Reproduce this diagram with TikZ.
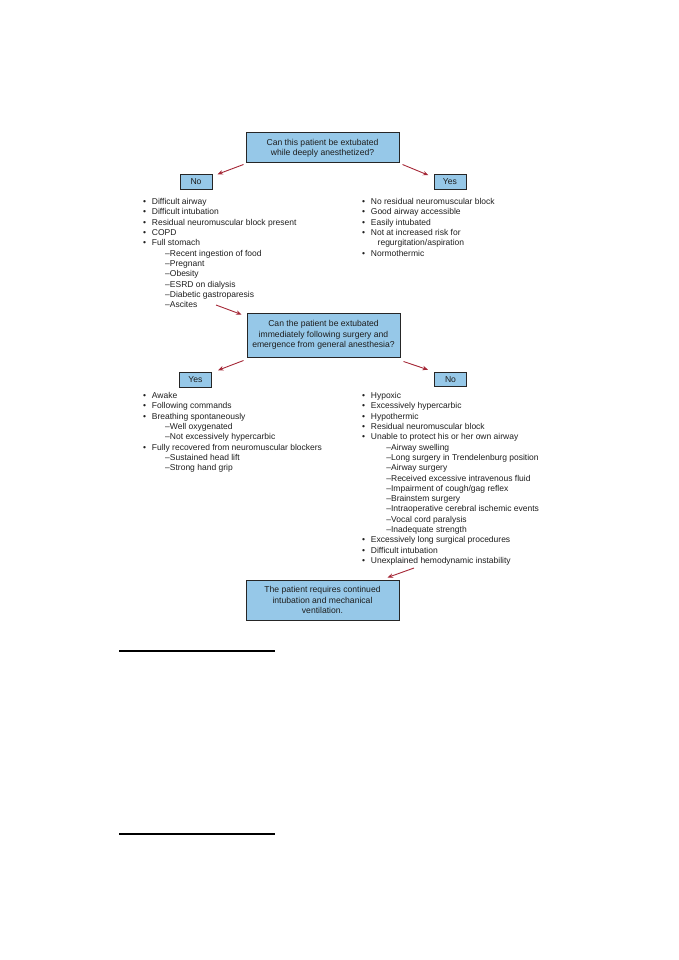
\documentclass[tikz,border=0pt]{standalone}
\usepackage{fontspec}
\setmainfont{Liberation Sans}
\usetikzlibrary{arrows.meta}
\definecolor{boxfill}{RGB}{150,200,232}
\definecolor{arrred}{RGB}{165,40,55}
\definecolor{txt}{RGB}{30,30,30}
\newcommand{\bitem}[1]{\makebox[8.7pt][l]{\textbullet}#1}
\newcommand{\subL}[1]{\hspace*{22pt}–#1}
\newcommand{\subR}[1]{\hspace*{24.2pt}–#1}
\begin{document}
\begin{tikzpicture}[x=1pt,y=-1pt,
  qbox/.style={draw=black!85, line width=1pt, fill=boxfill, align=center,
    inner sep=0pt, text=txt, font=\fontsize{8.6}{10.4}\selectfont},
  ansbox/.style={qbox, minimum width=32pt, minimum height=14.5pt},
  listtext/.style={anchor=north west, align=left, inner sep=0pt, text=txt,
    font=\fontsize{8.5}{10.3}\selectfont},
  arr/.style={draw=arrred, line width=0.9pt, -{Stealth[length=5.5pt,width=4.5pt]}}]
\useasboundingbox (0,0) rectangle (678,960);

% question boxes
\node[qbox, minimum width=153pt, minimum height=30pt] (q1) at (322.5,148)
  {Can this patient be extubated\\while deeply anesthetized?};
\node[ansbox] (no1) at (196,182) {No};
\node[ansbox] (yes1) at (450,182) {Yes};

\node[qbox, minimum width=153pt, minimum height=44pt] (q2) at (323.5,335)
  {Can the patient be extubated\\immediately following surgery and\\emergence from general anesthesia?};
\node[ansbox] (yes2) at (195.5,380) {Yes};
\node[ansbox] (no2) at (450.5,379.5) {No};

\node[qbox, minimum width=153pt, minimum height=40pt] (q3) at (322.5,600)
  {The patient requires continued\\intubation and mechanical\\ventilation.};

% lists
\node[listtext] (l1) at (143,198.3) {%
\bitem{Difficult airway}\\
\bitem{Difficult intubation}\\
\bitem{Residual neuromuscular block present}\\
\bitem{COPD}\\
\bitem{Full stomach}\\
\subL{Recent ingestion of food}\\
\subL{Pregnant}\\
\subL{Obesity}\\
\subL{ESRD on dialysis}\\
\subL{Diabetic gastroparesis}\\
\subL{Ascites}};

\node[listtext] (r1) at (362,198.3) {%
\bitem{No residual neuromuscular block}\\
\bitem{Good airway accessible}\\
\bitem{Easily intubated}\\
\bitem{Not at increased risk for}\\
\hspace*{15.5pt}regurgitation/aspiration\\
\bitem{Normothermic}};

\node[listtext] (l2) at (143,392.3) {%
\bitem{Awake}\\
\bitem{Following commands}\\
\bitem{Breathing spontaneously}\\
\subL{Well oxygenated}\\
\subL{Not excessively hypercarbic}\\
\bitem{Fully recovered from neuromuscular blockers}\\
\subL{Sustained head lift}\\
\subL{Strong hand grip}};

\node[listtext] (r2) at (362,392.3) {%
\bitem{Hypoxic}\\
\bitem{Excessively hypercarbic}\\
\bitem{Hypothermic}\\
\bitem{Residual neuromuscular block}\\
\bitem{Unable to protect his or her own airway}\\
\subR{Airway swelling}\\
\subR{Long surgery in Trendelenburg position}\\
\subR{Airway surgery}\\
\subR{Received excessive intravenous fluid}\\
\subR{Impairment of cough/gag reflex}\\
\subR{Brainstem surgery}\\
\subR{Intraoperative cerebral ischemic events}\\
\subR{Vocal cord paralysis}\\
\subR{Inadequate strength}\\
\bitem{Excessively long surgical procedures}\\
\bitem{Difficult intubation}\\
\bitem{Unexplained hemodynamic instability}};

\coordinate (asc) at (216,305);
\coordinate (unex) at (414,568);

% arrows
\draw[arr] ([shift={(-2,1)}]q1.south west) -- ([shift={(5,0)}]no1.north east);
\draw[arr] ([shift={(3,1)}]q1.south east) -- ([shift={(-5,1)}]yes1.north west);
\draw[arr] (asc) -- ([shift={(-5,2)}]q2.north west);
\draw[arr] ([shift={(-3,3)}]q2.south west) -- ([shift={(6,-2)}]yes2.north east);
\draw[arr] ([shift={(3,4)}]q2.south east) -- ([shift={(-6,-2)}]no2.north west);
\draw[arr] (unex) -- ([shift={(-12,-2)}]q3.north east);

% rules at the bottom
\draw[line width=1.1pt] (119,651) -- (275,651);
\draw[line width=1.1pt] (119,834) -- (275,834);
\end{tikzpicture}
\end{document}
